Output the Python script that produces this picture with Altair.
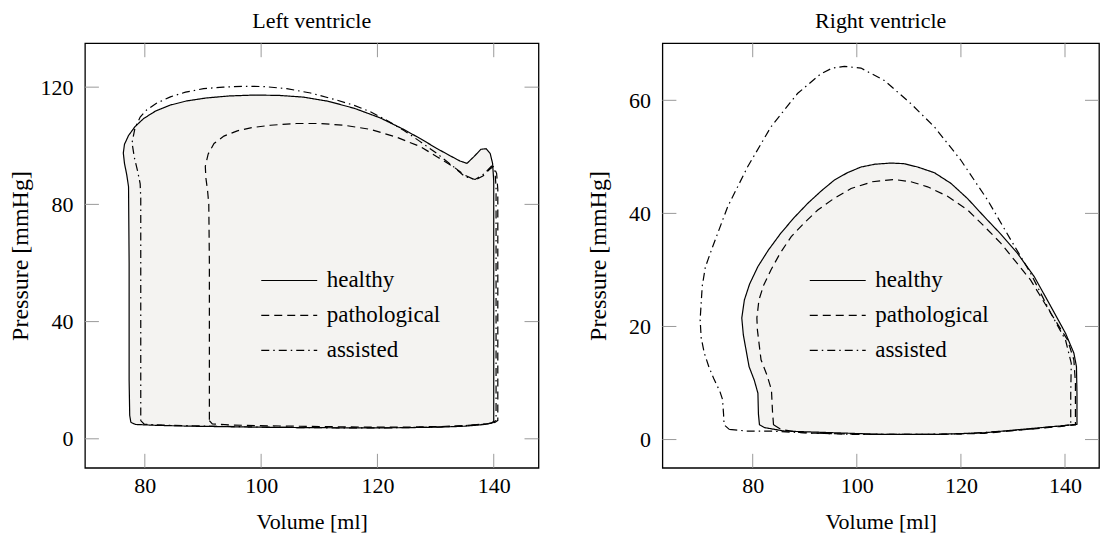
import altair as alt
import pandas as pd

SERIES = ["healthy", "pathological", "assisted"]
X_TICKS = [80, 100, 120, 140]
LEFT_Y_TICKS = [0, 40, 80, 120]
RIGHT_Y_TICKS = [0, 20, 40, 60]

# ---- Left ventricle ----
LH_V = [77.6, 78.4, 82, 88, 95, 102, 110, 118, 125, 131, 135, 138, 139.6, 140.0, 140.0, 140.0, 139.8, 139.4, 138.7, 137.8, 136.6, 135.4, 134.2, 132.3, 130.2, 127.5, 124.5, 120.5, 116, 111.5, 107.3, 103, 98.7, 94.5, 90.5, 87.2, 84.4, 81.8, 79.8, 78.3, 77.2, 76.5, 76.3, 76.5, 76.9, 77.2, 77.3, 77.3, 77.4, 77.6]
LH_P = [5.6, 4.9, 4.6, 4.3, 4.1, 3.9, 3.8, 3.7, 3.8, 4.0, 4.3, 4.8, 5.3, 6.0, 50, 88, 94, 97.3, 99.0, 98.8, 96.3, 94.0, 94.8, 96.8, 99.1, 102.3, 105.6, 109.5, 112.8, 115.2, 116.6, 117.2, 117.3, 117.0, 116.3, 115.3, 113.9, 111.8, 109.3, 106.5, 103.5, 100.5, 97.5, 94, 90, 86, 60, 20, 8, 5.6]

LP_V = [91.1, 91.6, 95, 102, 110, 118, 125, 131, 135, 138.5, 140.2, 140.7, 140.7, 140.7, 140.5, 140.0, 139.3, 138.2, 136.8, 135.0, 133.1, 130.3, 127.4, 123.2, 118.8, 114.3, 110.2, 106.0, 101.6, 98.4, 95.9, 93.6, 91.9, 90.9, 90.4, 90.5, 90.8, 91.0, 91.1, 91.1, 91.1]
LP_P = [6.2, 5.1, 4.7, 4.4, 4.2, 4.0, 4.0, 4.2, 4.5, 5.0, 5.6, 6.3, 50, 85, 90.5, 93.0, 92.0, 89.8, 88.3, 90.0, 92.8, 96.2, 99.7, 103.0, 105.6, 107.0, 107.6, 107.6, 107.0, 106.2, 105.1, 103.3, 100.8, 97.2, 93.0, 89.0, 84.5, 80.0, 60, 20, 6.2]

LA_V = [79.3, 79.9, 84, 92, 100, 108, 116, 124, 130, 134.5, 138, 139.8, 140.4, 140.4, 140.4, 140.2, 139.6, 138.4, 136.8, 135.0, 133.0, 130.2, 127.3, 124.5, 121.5, 118.8, 116.0, 113.0, 108.5, 104.4, 100.5, 97.0, 93.5, 90.1, 87.0, 84.4, 82.0, 80.3, 79.2, 78.3, 77.8, 78.2, 78.8, 79.2, 79.3, 79.3, 79.3, 79.3]
LA_P = [6.2, 5.0, 4.6, 4.3, 4.0, 3.8, 3.7, 3.8, 4.0, 4.4, 5.0, 5.5, 6.3, 50, 86, 91.5, 93.0, 90.5, 88.5, 89.5, 93.0, 97.4, 101.5, 105.3, 108.8, 111.6, 113.8, 115.6, 118.0, 119.5, 120.2, 120.3, 120.0, 119.5, 118.3, 116.7, 114.5, 112.2, 109.8, 106.0, 101.0, 96.0, 91.0, 87.0, 82.0, 50, 10, 6.2]

# ---- Right ventricle ----
RH_V = [81.3, 82.3, 86.1, 95.7, 105.3, 114.9, 124.5, 134.1, 139, 142.3, 142.3, 142.2, 141.7, 140.1, 137.3, 134.1, 130.9, 127.7, 124.5, 121.3, 118.1, 114.9, 111.7, 109, 106.5, 103.5, 100.8, 98.2, 95.7, 93.2, 90.6, 88, 85.4, 83, 81.0, 79.4, 78.4, 77.9, 78.2, 79.3, 80.3, 81.0, 81.1, 81.3]
RH_P = [2.6, 2.1, 1.5, 1.2, 0.9, 0.9, 1.2, 2.0, 2.4, 2.7, 8, 12.9, 15.3, 18.8, 23.5, 28.8, 32.9, 36.3, 39.4, 42.6, 45.3, 47.2, 48.2, 48.8, 48.9, 48.7, 48.2, 47.2, 45.9, 44.0, 41.8, 39.3, 36.5, 33.5, 30.6, 27.5, 24.7, 21.5, 18.5, 12.9, 10.5, 8.2, 4.5, 2.6]

RP_V = [84.0, 85.4, 89.3, 97, 105.3, 114.9, 124.5, 134, 139, 142.0, 142.0, 141.7, 140.5, 137.3, 133.4, 130.5, 127.7, 124.5, 121.3, 117.5, 113.6, 110.4, 107.2, 103, 98.9, 95.7, 92.5, 90, 87.4, 85.3, 83.5, 82.1, 81.2, 80.8, 80.9, 81.6, 82.7, 83.6, 83.8, 84.0]
RP_P = [2.6, 1.8, 1.2, 1.0, 0.9, 0.9, 1.1, 1.9, 2.3, 2.6, 10, 14.1, 17.6, 22.3, 28.2, 31.5, 34.7, 37.7, 40.6, 43.0, 44.7, 45.6, 46.0, 45.6, 44.4, 42.7, 40.6, 38.4, 35.9, 33.0, 30.0, 27.3, 24.7, 21.5, 19.4, 14.1, 11.5, 8.8, 5, 2.6]

RA_V = [75.5, 79.0, 83.3, 90, 100, 110, 120, 130, 136, 141.1, 141.1, 141.2, 140.1, 137.3, 133.4, 129.6, 125.1, 120.0, 114.9, 110.4, 105.3, 100.8, 97.6, 95.3, 93.1, 88.6, 83.5, 79.0, 75.2, 72.3, 70.9, 70.3, 69.9, 70.1, 70.7, 71.6, 72.6, 73.7, 74.2, 74.4, 74.5, 75.5]
RA_P = [1.8, 1.5, 1.5, 1.2, 0.9, 0.9, 1.0, 1.6, 2.1, 2.6, 8, 13.5, 17.6, 22.3, 29.4, 35.3, 42.4, 49.4, 55.3, 59.4, 63.5, 65.7, 66.0, 65.7, 64.7, 61.2, 55.3, 48.2, 41.2, 34.1, 30.5, 27.1, 21.2, 18.0, 15.3, 12.8, 10.6, 8.5, 7.1, 4.5, 2.6, 1.8]

FONT = "Liberation Serif"
H = 425
TICK = 14


def curves_df(curves):
    rows = []
    for name, vs, ps in curves:
        for i, (v, p) in enumerate(zip(vs, ps)):
            rows.append({"series": name, "idx": i, "V": v, "P": p})
    return pd.DataFrame(rows)


def panel(curves, xdom, ydom, yticks, title, width, lx, ly):
    df = curves_df(curves)
    xenc = alt.X("V:Q", scale=alt.Scale(domain=xdom, nice=False, zero=False),
                 axis=alt.Axis(values=X_TICKS, title="Volume [ml]", labelPadding=8,
                               titlePadding=15))
    yenc = alt.Y("P:Q", scale=alt.Scale(domain=ydom, nice=False, zero=False),
                 axis=alt.Axis(values=yticks, title="Pressure [mmHg]", labelPadding=12,
                               minExtent=45, maxExtent=45, titlePadding=7,
                               titleFontSize=24))
    fill = alt.Chart(df).transform_filter(alt.datum.series == "healthy").mark_line(
        fill="#f4f3f1", strokeOpacity=0, strokeWidth=0
    ).encode(x=xenc, y=yenc, order="idx:Q")
    lines = alt.Chart(df).mark_line(color="black", strokeWidth=1.2).encode(
        x=xenc, y=yenc, order="idx:Q", detail="series:N",
        strokeDash=alt.StrokeDash(
            "series:N",
            scale=alt.Scale(domain=SERIES, range=[[1, 0], [8, 5], [8, 4, 1.5, 4]]),
            legend=alt.Legend(orient="none", legendX=lx, legendY=ly, title=None,
                              symbolType="M-1,0H4.6", symbolSize=400,
                              symbolStrokeWidth=1.2, symbolStrokeColor="black",
                              labelFont=FONT, labelFontSize=23, labelColor="black",
                              labelOffset=44, rowPadding=11, padding=0),
        ),
    )
    xt = pd.DataFrame({"V": X_TICKS})
    yt = pd.DataFrame({"P": yticks})
    tick_style = dict(color="#9a9a9a", strokeWidth=1)
    xb = alt.Chart(xt).mark_rule(**tick_style).encode(x=xenc, y=alt.value(H), y2=alt.value(H - TICK))
    xtp = alt.Chart(xt).mark_rule(**tick_style).encode(x=xenc, y=alt.value(0), y2=alt.value(TICK))
    yl = alt.Chart(yt).mark_rule(**tick_style).encode(y=yenc, x=alt.value(0), x2=alt.value(TICK))
    yr = alt.Chart(yt).mark_rule(**tick_style).encode(y=yenc, x=alt.value(width), x2=alt.value(width - TICK))
    return alt.layer(fill, xb, xtp, yl, yr, lines).properties(
        width=width, height=H,
        title=alt.TitleParams(title, frame="group", anchor="middle"),
    )


left = panel([("healthy", LH_V, LH_P), ("pathological", LP_V, LP_P), ("assisted", LA_V, LA_P)],
             [69.7, 147.7], [-9.9, 135.0], LEFT_Y_TICKS, "Left ventricle", 454, 175, 226)
right = panel([("healthy", RH_V, RH_P), ("pathological", RP_V, RP_P), ("assisted", RA_V, RA_P)],
              [62.65, 146.53], [-5.0, 70.1], RIGHT_Y_TICKS, "Right ventricle", 437, 146, 226)

chart = alt.hconcat(left, right, spacing=45).resolve_scale(
    x="independent", y="independent", strokeDash="independent"
).resolve_legend(strokeDash="independent").properties(
    padding=0
).configure_view(stroke="black", strokeWidth=1.3).configure_axis(
    labelFont=FONT, labelFontSize=22, labelColor="black",
    titleFont=FONT, titleFontSize=22, titleFontWeight="normal", titleColor="black",
    domain=False, ticks=False, grid=False,
).configure_title(font=FONT, fontSize=22, fontWeight="normal", color="black", offset=10)

chart.save("out.html", embed_options={"renderer": "svg", "actions": False})
